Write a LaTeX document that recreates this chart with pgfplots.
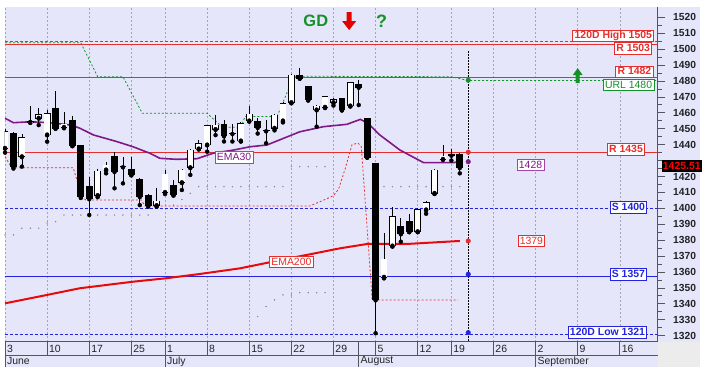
\documentclass[border=0pt]{standalone}
\usepackage{fontspec}
\setmainfont{Liberation Sans}
\usepackage{pgfplots}
\usepackage{pgfplotstable}
\pgfplotsset{compat=1.18}
\pgfdeclarelayer{background}
\pgfsetlayers{background,main}
\definecolor{lav}{RGB}{230,230,250}
\definecolor{gridc}{RGB}{165,165,180}
\definecolor{axc}{RGB}{85,85,95}
\definecolor{rline}{RGB}{232,45,45}
\definecolor{bline}{RGB}{35,35,225}
\definecolor{gline}{RGB}{20,145,40}
\definecolor{purp}{RGB}{128,25,135}
\definecolor{purl}{RGB}{160,70,170}
\definecolor{emar}{RGB}{232,10,10}
\definecolor{dotc}{RGB}{130,130,150}
\definecolor{txt}{RGB}{35,35,40}
\definecolor{cornerc}{RGB}{236,236,236}
% candles: i, low, body low, body high, high
\pgfplotstableread{
i l lo hi h
0 1435 1437.7 1448.1 1450
2 1426.2 1432.4 1444.4 1446.5
3 1453.8 1454 1454.6 1464.3
4 1452.3 1456.6 1459.1 1462.8
5 1441.9 1446.1 1459.7 1461.8
7 1450.3 1450.9 1453 1460.7
11 1407 1408 1423.4 1424.5
12 1422 1424.1 1427.2 1429.3
18 1401 1401.7 1404.6 1412.6
19 1409 1410 1421.6 1424
21 1411.5 1416.1 1424.1 1424.7
22 1421 1425.5 1436.6 1437
23 1437 1437.3 1440.9 1443
24 1435.6 1439.8 1451.9 1452.5
25 1446 1449.5 1452.3 1458.6
28 1442 1442.3 1453.4 1454
29 1454.5 1454.9 1459.3 1464.6
32 1449 1450.3 1458.6 1459.5
33 1454 1454.9 1466 1467
34 1466 1466.4 1483.8 1484.5
37 1451.3 1461.8 1464.3 1464.8
38 1463 1463.5 1470.1 1470.5
39 1464.6 1466.4 1468.5 1469.5
41 1464 1464.3 1478.9 1479.2
45 1356 1356.7 1368.2 1384.3
46 1376 1376.3 1394.8 1400.8
49 1385 1385.3 1399.4 1400
50 1396.6 1399 1403.5 1404.6
51 1409 1409.4 1424.1 1424.5
52 1430.5 1430.8 1432.9 1439.8
}\bull
\pgfplotstableread{
i l lo hi h
1 1425 1426.2 1447.1 1448
6 1450 1450.3 1462.8 1473.9
8 1439 1439.4 1455.5 1458
9 1406.5 1407.3 1439.4 1440
10 1395.8 1405.9 1413.6 1419.9
13 1412.6 1423 1432.4 1435.6
14 1415.7 1426 1426.4 1432.4
15 1420.9 1420.9 1424.7 1432.4
16 1402 1407.3 1418.4 1419
17 1401 1401.7 1408.4 1409
20 1408 1408.4 1414.7 1417.8
26 1442 1445.4 1453 1455.5
27 1442 1446.9 1447.3 1453
30 1447 1450.7 1454.9 1457
31 1440.9 1448.6 1449 1455.5
35 1481.5 1481.7 1483.3 1488
36 1467.8 1468 1476.4 1476.8
40 1461.5 1461.8 1469.1 1469.5
42 1464.9 1476 1478.1 1480.6
43 1431.8 1432.1 1456.6 1457
44 1321.5 1342.4 1428.3 1428.5
47 1379 1383.9 1388.9 1394.1
48 1385 1385.3 1391.6 1396.6
53 1430 1433.3 1433.7 1437
54 1422 1425.51 1434.1 1435
}\bear
\pgfplotsset{
  ebar/.style 2 args={only marks, mark=none, forget plot, error bars/.cd, y dir=plus, y explicit, error mark=none, error bar style={#1, line width=#2}}}
\tikzset{lb/.style={fill=white, line width=0.8bp, inner xsep=1.8bp, inner ysep=1.2bp, text height=7.7bp, text depth=1.6bp, font=\bfseries\fontsize{10.5}{12}\selectfont},
  lr/.style={fill=white, line width=0.8bp, inner xsep=1.8bp, inner ysep=1.2bp, text height=7.7bp, text depth=1.6bp, font=\fontsize{10.5}{12}\selectfont}}
\newcommand\xl[2]{\draw[axc, line width=0.8bp] (axis cs:#1,1316.2) -- ++(0bp,-13.3bp); \node[anchor=west, inner sep=0pt, font=\fontsize{10.5}{12}\selectfont, text=txt] at ([xshift=1.8bp,yshift=-6.9bp]axis cs:#1,1316.2) {#2};}
\newcommand\ml[2]{\draw[axc, line width=0.8bp] (axis cs:#1,1316.2) -- ++(0bp,-25.3bp); \node[anchor=west, inner sep=0pt, font=\fontsize{10.5}{12}\selectfont, text=txt] at ([xshift=1.8bp,yshift=-19.6bp]axis cs:#1,1316.2) {#2};}
\begin{document}
\begin{tikzpicture}
\begin{axis}[
 name=ax, scale only axis, width=653bp, height=335bp,
 xmin=-0.04, xmax=77.5, ymin=1316.2, ymax=1526.7,
 clip mode=individual,
 axis background/.style={fill=lav},
 axis x line*=bottom, axis y line*=right,
 axis line style={draw=axc, line width=1.2bp},
 xtick={0,5,10,15,19,24,29,34,39,44,49,53,58,63,68,73},
 xticklabels={},
 xtick style={draw=none},
 xmajorgrids,
 major x grid style={gridc, dash pattern=on 2bp off 2bp, line width=0.6bp},
 ytick={1320,1330,...,1520},
 yticklabels={1320,1330,1340,1350,1360,1370,1380,1390,1400,1410,1420,,1440,1450,1460,1470,1480,1490,1500,1510,1520},
 minor y tick num=1,
 ytick style={draw=axc, line width=0.8bp},
 tick align=outside,
 major tick length=7.3bp, minor tick length=4bp,
 yticklabel style={font=\bfseries\fontsize{10.3}{12}\selectfont, text=txt, anchor=west, inner sep=0pt, xshift=8bp},
]
\coordinate (SW) at (rel axis cs:0,0);
\coordinate (SE) at (rel axis cs:1,0);
\coordinate (NE) at (rel axis cs:1,1);
\coordinate (cl) at (axis cs:77.5,1426.4);
\coordinate (ra) at (axis cs:40.86,1523.3);
\coordinate (ga) at (axis cs:68,1488.1);
% horizontal levels
\addplot[rline, line width=0.8bp, dash pattern=on 3bp off 2bp] coordinates {(-0.04,1505) (77.5,1505)};
\addplot[rline, line width=0.8bp] coordinates {(-0.04,1503) (77.5,1503)};
\addplot[rline, line width=0.8bp] coordinates {(-0.04,1482) (77.5,1482)};
\addplot[rline, line width=0.8bp] coordinates {(-0.04,1435) (77.5,1435)};
\addplot[bline, line width=0.8bp, dash pattern=on 3bp off 2bp] coordinates {(-0.04,1400) (77.5,1400)};
\addplot[bline, line width=0.8bp] coordinates {(-0.04,1357) (77.5,1357)};
\addplot[bline, line width=0.8bp, dash pattern=on 3bp off 2bp] coordinates {(-0.04,1321) (77.5,1321)};
% URL stepped line
\addplot[gline, line width=0.8bp, dash pattern=on 2bp off 2bp] coordinates {(0,1504) (9,1504) (11,1482.7) (14,1482.7) (16.3,1459.7) (24,1459.7) (25.8,1451) (28,1451) (28.5,1457.7) (32.3,1457.7) (34.3,1483) (53,1482.7) (55,1480.3) (77.5,1480.3)};
% red trailing line
\addplot[rline, line width=0.8bp, dash pattern=on 2bp off 2bp] coordinates {(0,1432.4) (0.8,1425.5) (8.1,1425.5) (9.1,1407.3) (9.6,1405.2) (16.2,1405.2) (16.6,1401.5) (36.2,1401.5) (38.2,1406) (39,1408) (39.6,1412) (40.4,1425) (41.2,1440) (41.9,1441) (42.3,1439) (43.6,1342.4) (53.8,1342.4)};
% sparse dots
\addplot[only marks, mark=*, mark size=0.45bp, dotc] coordinates {(0,1383.3) (1,1383.3) (2,1387.5) (3,1387.5) (4,1387.5) (5,1390.8) (6,1391.6) (7,1395.8) (8,1395.8) (9,1395.8) (10,1395.8) (11,1395.8) (12,1395.8) (13,1395.8) (14,1395.8) (15,1395.8) (16,1395.8) (17,1395.8) (20,1402) (21,1405.5) (22,1409.4) (23,1413.6) (24,1413.6) (25,1413.6) (26,1413.6) (27,1413.6) (28,1413.6) (29,1413.6) (30,1413.6) (31,1413.6) (32,1413.6) (33,1413.6) (34,1426.2) (35,1426.2) (36,1426.2) (37,1426.2) (38,1426.2) (45,1413.6) (46,1413.6) (47,1413.6) (48,1413.6) (49,1413.6) (50,1413.6) (51,1413.6) (52,1413.6) (53,1413.6) (54,1413.6) (30,1332) (31,1338.3) (32,1342.5) (33,1345.6) (34,1345.6) (35,1347) (36,1347) (37,1347) (38,1347)};
% EMA200
\addplot[emar, line width=2bp] coordinates {(0,1340.3) (5,1345.6) (8.9,1349.8) (15.2,1353.9) (19.2,1356.1) (23.2,1358.8) (27.9,1362.3) (31.8,1366.5) (35.8,1370.7) (39.8,1374.9) (43,1377.6) (47.7,1377.6) (54,1379.5)};
% EMA30
\addplot[purp, line width=1.6bp] coordinates {(0,1456.6) (1,1453.8) (3,1454.4) (5.3,1453.8) (7.9,1452.3) (8.9,1450.3) (10.5,1446.1) (13.3,1441.9) (15.2,1438.7) (17.2,1434.6) (18.4,1431.4) (20.4,1430.8) (22.8,1431.2) (24.7,1434.6) (27.1,1436.6) (29.1,1438.7) (31.1,1439.8) (35,1448.1) (37.8,1451.3) (40.6,1452.8) (42.2,1455.9) (43.1,1453.4) (44.5,1446.1) (46.9,1436.6) (49.7,1428.7) (53.2,1428.7) (54,1429.3)};
% today line
\addplot[black, line width=0.8bp, dash pattern=on 1.5bp off 1.5bp] coordinates {(55,1498.6) (55,1316.2)};
% candles: wicks
\addplot[ebar={black}{0.75bp}] table[x=i, y=l, y error expr={\thisrow{h}-\thisrow{l}}] {\bull};
\addplot[ebar={black}{0.75bp}] table[x=i, y=l, y error expr={\thisrow{h}-\thisrow{l}}] {\bear};
% bodies
\addplot[ebar={black}{6.8bp}] table[x=i, y expr={\thisrow{lo}-0.22}, y error expr={\thisrow{hi}-\thisrow{lo}+0.44}] {\bear};
\addplot[ebar={black}{6.8bp}] table[x=i, y expr={\thisrow{lo}-0.22}, y error expr={\thisrow{hi}-\thisrow{lo}+0.44}] {\bull};
\addplot[ebar={white}{5.4bp}] table[x=i, y expr={\thisrow{lo}+0.22}, y error expr={max(\thisrow{hi}-\thisrow{lo}-0.44,0)}] {\bull};
% today dots
\addplot[only marks, mark=*, mark size=2.3bp, gline] coordinates {(55,1480.5)};
\addplot[only marks, mark=*, mark size=2.3bp, rline] coordinates {(55,1435.3) (55,1379.5)};
\addplot[only marks, mark=*, mark size=2.3bp, purp] coordinates {(55,1429.3)};
\addplot[only marks, mark=*, mark size=2.3bp, bline] coordinates {(55,1358.6) (55,1321.9)};
% labels
\node[lb, draw=rline, text=rline, anchor=east] at (axis cs:77.08,1508.4) {120D High 1505};
\node[lb, draw=rline, text=rline, anchor=east] at (axis cs:76.85,1500.3) {R 1503};
\node[lb, draw=rline, text=rline, anchor=east] at (axis cs:77.0,1485.8) {R 1482};
\node[lr, draw=gline, text=gline, anchor=east] at (axis cs:77.1,1477.5) {URL 1480};
\node[lb, draw=rline, text=rline, anchor=east] at (axis cs:76.0,1437) {R 1435};
\node[lb, draw=bline, text=bline, anchor=east] at (axis cs:76.25,1400.5) {S 1400};
\node[lb, draw=bline, text=bline, anchor=east] at (axis cs:76.25,1358.7) {S 1357};
\node[lb, draw=bline, text=bline, anchor=east] at (axis cs:76.25,1322) {120D Low 1321};
\node[lr, draw=purl, text=purp] at (axis cs:62.4,1427.2) {1428};
\node[lr, draw=rline, text=rline] at (axis cs:62.5,1379.5) {1379};
\node[lr, draw=purl, text=purp] at (axis cs:27.2,1432.2) {EMA30};
\node[lr, draw=rline, text=rline] at (axis cs:34,1366.3) {EMA200};
% signals
\node[text=gline, font=\bfseries\fontsize{16.5}{18}\selectfont, inner sep=0pt] at (axis cs:36.9,1517.7) {GD};
\node[text=gline, font=\bfseries\fontsize{18}{20}\selectfont, inner sep=0pt] at (axis cs:44.7,1517.4) {?};
% x labels
\ml{0}{June}\ml{19}{July}\ml{42}{August}\ml{63}{September}
\xl{0}{3}\xl{5}{10}\xl{10}{17}\xl{15}{25}\xl{19}{1}\xl{24}{8}\xl{29}{15}\xl{34}{22}\xl{39}{29}\xl{44}{5}\xl{49}{12}\xl{53}{19}\xl{58}{26}\xl{63}{2}\xl{68}{9}\xl{73}{16}
\end{axis}
\begin{pgfonlayer}{background}
\fill[lav] ([yshift=-25.3bp]SW) rectangle ([xshift=42.3bp]NE);
\fill[cornerc] ([yshift=-25.3bp]SE) rectangle ([xshift=42.3bp]SE);
\end{pgfonlayer}
\draw[axc, line width=0.8bp] ([yshift=-13.3bp]SW) -- ([yshift=-13.3bp]SE);
\fill[red!90!black] ([xshift=-2.5bp]ra) -- ([xshift=2.5bp]ra) -- ([xshift=2.5bp,yshift=-9bp]ra) -- ([xshift=7bp,yshift=-9bp]ra) -- ([yshift=-18bp]ra) -- ([xshift=-7bp,yshift=-9bp]ra) -- ([xshift=-2.5bp,yshift=-9bp]ra) -- cycle;
\fill[gline] (ga) -- ([xshift=5bp,yshift=-7bp]ga) -- ([xshift=2bp,yshift=-7bp]ga) -- ([xshift=2bp,yshift=-15bp]ga) -- ([xshift=-2bp,yshift=-15bp]ga) -- ([xshift=-2bp,yshift=-7bp]ga) -- ([xshift=-5bp,yshift=-7bp]ga) -- cycle;
\node[fill=black, text=red, font=\bfseries\fontsize{10.5}{12}\selectfont, inner xsep=1bp, inner ysep=1.6bp, text height=7.7bp, text depth=0.8bp, anchor=west] at ([xshift=4bp]cl) {1425.51};
\pgfresetboundingbox
\path ([xshift=-4.7bp,yshift=-43.3bp]SW) rectangle ([xshift=66.3bp,yshift=6.7bp]NE);
\end{tikzpicture}
\end{document}
